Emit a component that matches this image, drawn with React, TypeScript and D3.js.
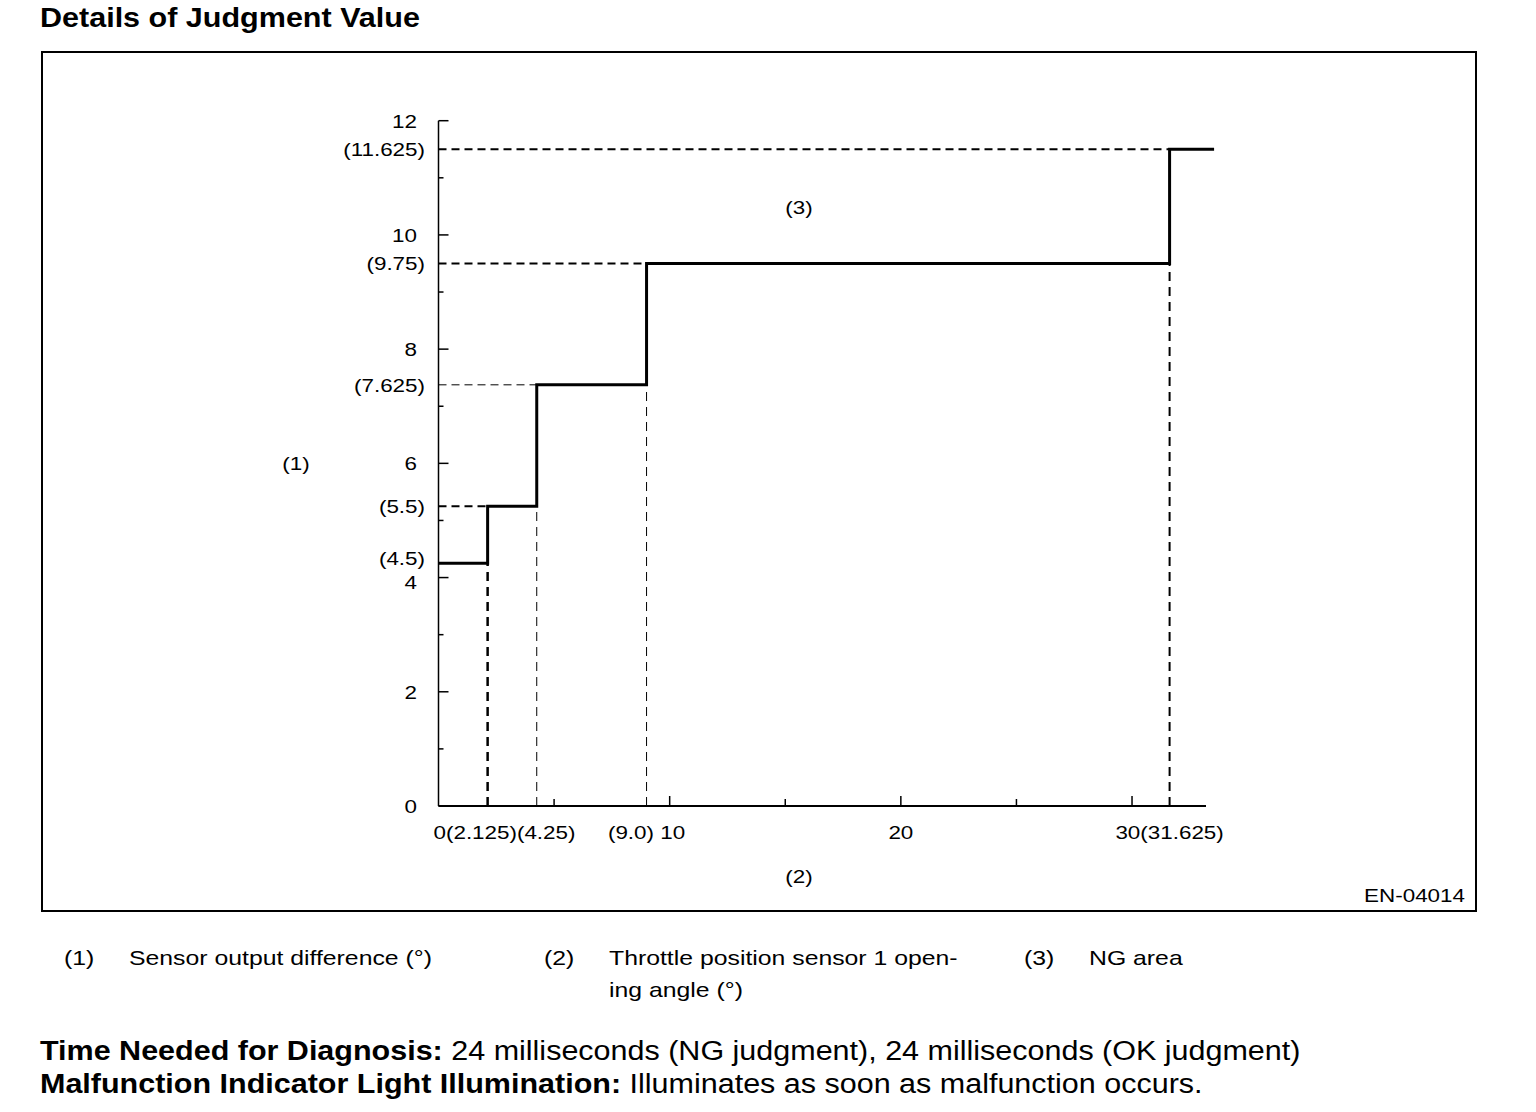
import React from "react";
import * as d3 from "d3";

// ---- data ----
const stepX = [0, 2.125, 4.25, 9.0, 31.625, 33.55];
const stepY = [4.25, 5.25, 7.375, 9.5, 11.5, 11.5];
const levelLabels = ["(4.5)", "(5.5)", "(7.625)", "(9.75)", "(11.625)"];
const yMajorTicks = [0, 2, 4, 6, 8, 10, 12];
const yMinorTicks = [1, 3, 5, 7, 9, 11];
const xMajorTicks = [10, 20, 30];
const xMinorTicks = [5, 15, 25];
const xLabelTexts = ["0(2.125)(4.25)", "(9.0) 10", "20", "30(31.625)"];
const xLabelAt = [0, 9.0, 20, 31.625];
const legendNums = ["(1)", "(2)", "(3)"];
const legendTexts = [["Sensor output difference (°)"], ["Throttle position sensor 1 open-", "ing angle (°)"], ["NG area"]];

const FONT = '"Liberation Sans", Arial, Helvetica, sans-serif';

function T({ x, y, anchor = "start", size = 19, sx = 1.18, weight = "normal", base = "central", children }: any) {
  return (
    <text
      transform={`translate(${x},${y}) scale(${sx},1)`}
      textAnchor={anchor}
      dominantBaseline={base}
      fontSize={size}
      fontWeight={weight}
      fontFamily={FONT}
      fill="#000"
    >
      {children}
    </text>
  );
}

export default function App() {
  const x = d3.scaleLinear().domain([0, 33.2]).range([438.5, 1206]);
  const y = d3.scaleLinear().domain([0, 12]).range([806, 120.7]);
  const pts: [number, number][] = stepX.map((v, i) => [v, stepY[i]]);
  const stepPath = d3
    .line<[number, number]>()
    .x((d) => x(d[0]))
    .y((d) => y(d[1]))
    .curve(d3.curveStepAfter)(pts) as string;

  const hDashW = [2, 1, 2, 2];
  const vDashW = [2.5, 1, 1, 2];
  const yLabelNudge: Record<number, number> = { 4: 5 };
  const levelNudge = [-5, 0, 0, 0, 0];
  const legendX = [64, 544, 1024];
  const legendTextX = [129, 609, 1089];

  return (
    <svg width={1536} height={1112} style={{ position: "absolute", left: 0, top: 0, background: "#fff" }}>
      <rect x={0} y={0} width={1536} height={1112} fill="#fff" />
      <T x={40} y={27} size={27.5} sx={1.11} weight="bold" base="alphabetic">Details of Judgment Value</T>
      <rect x={42} y={52} width={1434} height={859} fill="none" stroke="#000" strokeWidth={2} />

      {/* dashed guides */}
      {stepX.slice(1, 5).map((v, i) => (
        <line key={"h" + i} x1={x(0)} x2={x(v)} y1={y(stepY[i + 1])} y2={y(stepY[i + 1])}
          stroke="#000" strokeWidth={hDashW[i]} strokeDasharray="8,5" />
      ))}
      {stepX.slice(1, 5).map((v, i) => (
        <line key={"v" + i} x1={x(v)} x2={x(v)} y1={y(0)} y2={y(stepY[i])}
          stroke="#000" strokeWidth={vDashW[i]} strokeDasharray="9,6" />
      ))}

      {/* axes */}
      <line x1={x(0)} x2={x(0)} y1={y(12)} y2={y(0)} stroke="#000" strokeWidth={1.5} />
      <line x1={x(0)} x2={x(33.2)} y1={y(0)} y2={y(0)} stroke="#000" strokeWidth={2} />
      {yMajorTicks.map((t) => (
        <line key={"ym" + t} x1={x(0)} x2={x(0) + 10} y1={y(t)} y2={y(t)} stroke="#000" strokeWidth={1.5} />
      ))}
      {yMinorTicks.map((t) => (
        <line key={"yn" + t} x1={x(0)} x2={x(0) + 5} y1={y(t)} y2={y(t)} stroke="#000" strokeWidth={1.5} />
      ))}
      {xMajorTicks.map((t) => (
        <line key={"xm" + t} x1={x(t)} x2={x(t)} y1={y(0)} y2={y(0) - 10} stroke="#000" strokeWidth={1.5} />
      ))}
      {xMinorTicks.map((t) => (
        <line key={"xn" + t} x1={x(t)} x2={x(t)} y1={y(0)} y2={y(0) - 7} stroke="#000" strokeWidth={1.5} />
      ))}

      {/* step line */}
      <path d={stepPath} fill="none" stroke="#000" strokeWidth={3} />

      {/* y labels */}
      {yMajorTicks.map((t) => (
        <T key={"yl" + t} x={417} y={y(t) + (yLabelNudge[t] || 0)} anchor="end">{String(t)}</T>
      ))}
      {levelLabels.map((l, i) => (
        <T key={"ll" + i} x={425} y={y(stepY[i]) + levelNudge[i]} anchor="end">{l}</T>
      ))}

      {/* x labels */}
      {xLabelTexts.map((l, i) => (
        <T key={"xl" + i} x={x(xLabelAt[i]) - (i === 0 ? 5 : 0)} y={832} anchor={i === 0 ? "start" : "middle"}>{l}</T>
      ))}

      <T x={296} y={463} anchor="middle">(1)</T>
      <T x={799} y={207} anchor="middle">(3)</T>
      <T x={799} y={876} anchor="middle">(2)</T>
      <T x={1465} y={895} anchor="end">EN-04014</T>

      {/* legend */}
      {legendNums.map((n, i) => (
        <g key={"lg" + i}>
          <T x={legendX[i]} y={958} size={20} sx={1.24}>{n}</T>
          {legendTexts[i].map((line, j) => (
            <T key={j} x={legendTextX[i]} y={958 + j * 32} size={20} sx={1.24}>{line}</T>
          ))}
        </g>
      ))}

      {/* footer */}
      <text transform="translate(40,1060) scale(1.09,1)" fontFamily={FONT} fontSize={28} fill="#000">
        <tspan fontWeight="bold">Time Needed for Diagnosis:</tspan>
        <tspan> 24 milliseconds (NG judgment), 24 milliseconds (OK judgment)</tspan>
      </text>
      <text transform="translate(40,1093) scale(1.09,1)" fontFamily={FONT} fontSize={28} fill="#000">
        <tspan fontWeight="bold">Malfunction Indicator Light Illumination:</tspan>
        <tspan> Illuminates as soon as malfunction occurs.</tspan>
      </text>
    </svg>
  );
}
